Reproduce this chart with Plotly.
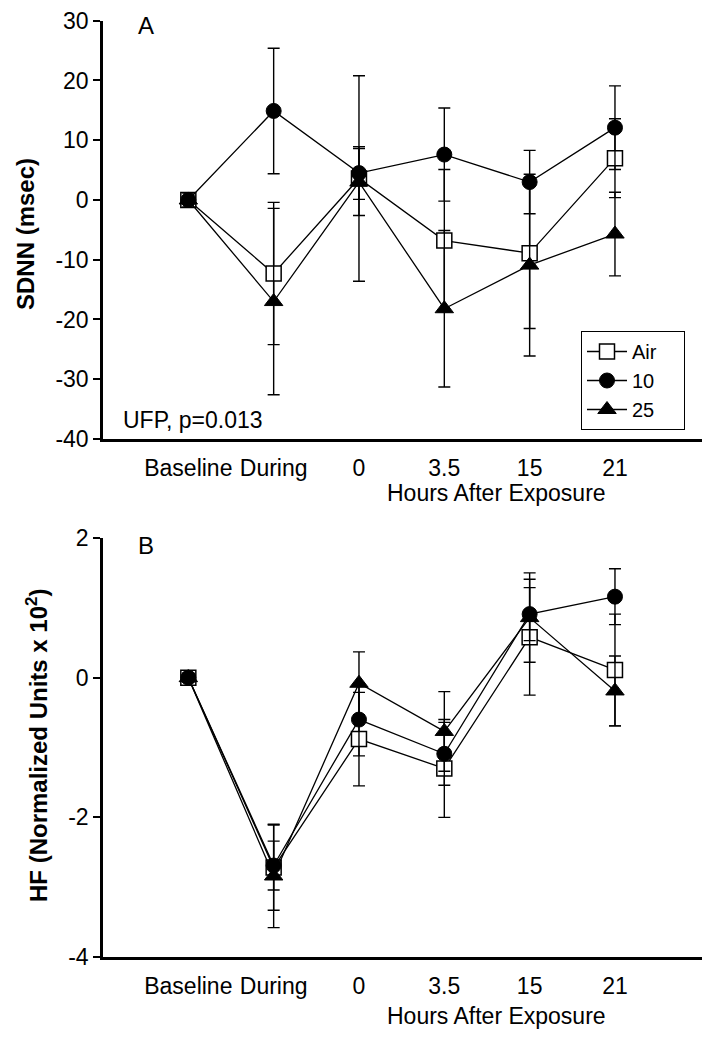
import plotly.graph_objects as go

# ---- data ----
categories = ["Baseline", "During", "0", "3.5", "15", "21"]
x_idx = [0, 1, 2, 3, 4, 5]

groups = ["Air", "10", "25"]

sdnn_air = [0, -12.3, 3.6, -6.8, -8.9, 7.0]
sdnn_air_err = [1.2, 11.9, 17.2, 11.9, 12.6, 6.6]
sdnn_10 = [0, 14.9, 4.5, 7.6, 3.0, 12.1]
sdnn_10_err = [1.2, 10.5, 4.4, 7.8, 5.3, 7.0]
sdnn_25 = [0, -17.0, 3.0, -18.2, -10.9, -5.7]
sdnn_25_err = [1.2, 15.6, 5.6, 13.1, 15.2, 7.0]

hf_air = [0, -2.72, -0.88, -1.30, 0.58, 0.11]
hf_air_err = [0.06, 0.61, 0.67, 0.70, 0.83, 0.80]
hf_10 = [0, -2.69, -0.60, -1.09, 0.91, 1.16]
hf_10_err = [0.06, 0.35, 0.52, 0.45, 0.38, 0.40]
hf_25 = [0, -2.84, -0.08, -0.77, 0.86, -0.19]
hf_25_err = [0.06, 0.74, 0.45, 0.57, 0.64, 0.50]

sdnn_ticks = [30, 20, 10, 0, -10, -20, -30, -40]
hf_ticks = [2, 0, -2, -4]

FONT = "Liberation Sans, Arial, Helvetica, sans-serif"

# page body has an 8 px margin: figure sized so it ends at the window edge
OFF = 8
W, H = 713 - OFF, 1050 - OFF


def px_x(px):
    return (px - OFF) / W


def px_y(py):
    return 1 - (py - OFF) / H


marker_styles = {
    "Air": dict(symbol="square", size=15, color="white", line=dict(color="black", width=1.5)),
    "10": dict(symbol="circle", size=15, color="black", line=dict(color="black", width=1)),
    "25": dict(symbol="triangle-up", size=16, color="black", line=dict(color="black", width=1)),
}

fig = go.Figure()

panelA = {"Air": (sdnn_air, sdnn_air_err), "10": (sdnn_10, sdnn_10_err), "25": (sdnn_25, sdnn_25_err)}
panelB = {"Air": (hf_air, hf_air_err), "10": (hf_10, hf_10_err), "25": (hf_25, hf_25_err)}

for g in groups:
    y, e = panelA[g]
    fig.add_trace(go.Scatter(
        x=x_idx, y=y, mode="lines+markers", name=g + "\u00a0\u00a0\u00a0\u00a0",
        line=dict(color="black", width=1.3),
        marker=marker_styles[g],
        error_y=dict(type="data", array=e, visible=True, color="black", thickness=1.4, width=6),
        xaxis="x", yaxis="y", showlegend=True, cliponaxis=False,
    ))
for g in groups:
    y, e = panelB[g]
    fig.add_trace(go.Scatter(
        x=x_idx, y=y, mode="lines+markers", name=g,
        line=dict(color="black", width=1.3),
        marker=marker_styles[g],
        error_y=dict(type="data", array=e, visible=True, color="black", thickness=1.4, width=6),
        xaxis="x2", yaxis="y2", showlegend=False, cliponaxis=False,
    ))

xdom = [px_x(103), px_x(702)]
xaxis_common = dict(
    domain=xdom, range=[-1, 6.02], showline=True, linecolor="black", linewidth=2.5,
    showgrid=False, zeroline=False, ticks="", tickvals=x_idx, ticktext=categories,
    tickfont=dict(family=FONT, size=23, color="black"), ticklabelstandoff=7,
    automargin=False,
)
yaxis_common = dict(
    showline=True, linecolor="black", linewidth=2.5, showgrid=False, zeroline=False,
    ticks="outside", ticklen=7, tickwidth=1.5, tickcolor="black",
    tickfont=dict(family=FONT, size=23, color="black"), automargin=False,
    ticklabeloverflow="allow",
)

fig.update_layout(
    width=W, height=H,
    margin=dict(l=0, r=0, t=0, b=0, autoexpand=False),
    paper_bgcolor="white", plot_bgcolor="white",
    font=dict(family=FONT, color="black"),
    xaxis=dict(**xaxis_common, anchor="y"),
    yaxis=dict(**yaxis_common, domain=[px_y(439), px_y(20.7)], range=[-40, 30],
               tickvals=sdnn_ticks, ticktext=[str(v) for v in sdnn_ticks], anchor="x"),
    xaxis2=dict(**xaxis_common, anchor="y2"),
    yaxis2=dict(**yaxis_common, domain=[px_y(957), px_y(538)], range=[-4, 2],
                tickvals=hf_ticks, ticktext=[str(v) for v in hf_ticks], anchor="x2"),
    legend=dict(
        x=px_x(581), y=px_y(331), xanchor="left", yanchor="top",
        bordercolor="black", borderwidth=1, bgcolor="white",
        font=dict(family=FONT, size=20, color="black"),
        itemwidth=40, tracegroupgap=0,
    ),
    showlegend=True,
)

annotations = [
    dict(text="A", x=px_x(146), y=px_y(25), xref="paper", yref="paper",
         xanchor="center", yanchor="middle",
         showarrow=False, font=dict(family=FONT, size=24, color="black")),
    dict(text="B", x=px_x(146), y=px_y(545), xref="paper", yref="paper",
         xanchor="center", yanchor="middle",
         showarrow=False, font=dict(family=FONT, size=24, color="black")),
    dict(text="UFP, p=0.013", x=px_x(121), y=px_y(420), xref="paper", yref="paper",
         xanchor="left", yanchor="middle", showarrow=False,
         font=dict(family=FONT, size=23, color="black")),
    dict(text="Hours After Exposure", x=px_x(496), y=px_y(493), xref="paper", yref="paper",
         xanchor="center", yanchor="middle", showarrow=False,
         font=dict(family=FONT, size=23, color="black")),
    dict(text="Hours After Exposure", x=px_x(496), y=px_y(1016), xref="paper", yref="paper",
         xanchor="center", yanchor="middle", showarrow=False,
         font=dict(family=FONT, size=23, color="black")),
    dict(text="<b>SDNN (msec)</b>", x=px_x(25), y=px_y(234), xref="paper", yref="paper",
         textangle=-90, xanchor="center", yanchor="middle", showarrow=False,
         font=dict(family=FONT, size=24, color="black")),
    dict(text="<b>HF (Normalized Units x 10<sup>2</sup>)</b>", x=px_x(37), y=px_y(746),
         xref="paper", yref="paper", textangle=-90, xanchor="center", yanchor="middle",
         showarrow=False, font=dict(family=FONT, size=24, color="black")),
]
fig.update_layout(annotations=annotations)

fig.write_html("out.html")
